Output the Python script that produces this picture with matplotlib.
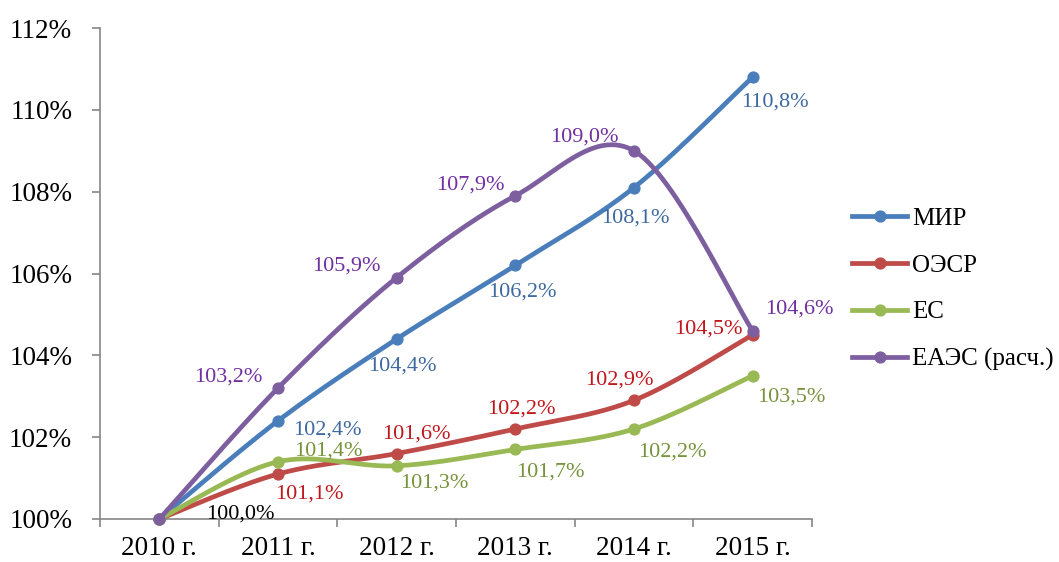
import numpy as np
import matplotlib.pyplot as plt
from matplotlib.lines import Line2D

# Данные
years = ["2010 г.", "2011 г.", "2012 г.", "2013 г.", "2014 г.", "2015 г."]
mir = [100.0, 102.4, 104.4, 106.2, 108.1, 110.8]
oecd = [100.0, 101.1, 101.6, 102.2, 102.9, 104.5]
es = [100.0, 101.4, 101.3, 101.7, 102.2, 103.5]
eaes = [100.0, 103.2, 105.9, 107.9, 109.0, 104.6]
series_names = ["МИР", "ОЭСР", "ЕС", "ЕАЭС (расч.)"]

# Стили
line_colors = ["#4A7EBB", "#BE4B48", "#98B954", "#7D5FA0"]
label_colors = ["#3D69A0", "#C0161C", "#77933C", "#7030A0"]

# Смещения подписей (в пикселях), первая точка подписывается отдельно
offsets = [
    [None, (49, -9), (6, -27), (7, -27), (1, -30), (22, -25)],
    [None, (31, -20), (20, 19), (6, 20), (-15, 20), (-44, 6)],
    [None, (50, 11), (38, -17), (35, -23), (38, -23), (39, -21)],
    [None, (-50, 11), (-50, 12), (-45, 11), (-50, 14), (47, 22)],
]

plt.rcParams['font.family'] = ['Liberation Serif', 'DejaVu Serif']


def smooth(y, n=60):
    # сглаживание как в Excel: кривые Безье с коэффициентом 1/6
    x = np.arange(len(y), dtype=float)
    pts = np.column_stack([x, np.array(y, dtype=float)])
    out = []
    for i in range(len(pts) - 1):
        p0 = pts[i - 1] if i > 0 else pts[i]
        p1 = pts[i]
        p2 = pts[i + 1]
        p3 = pts[i + 2] if i + 2 < len(pts) else pts[i + 1]
        c1 = p1 + (p2 - p0) / 6
        c2 = p2 - (p3 - p1) / 6
        t = np.linspace(0, 1, n)[:, None]
        seg = ((1 - t) ** 3) * p1 + 3 * ((1 - t) ** 2) * t * c1 + 3 * (1 - t) * t ** 2 * c2 + t ** 3 * p2
        out.append(seg if i == 0 else seg[1:])
    seg = np.vstack(out)
    return seg[:, 0], seg[:, 1]


fig = plt.figure(figsize=(10.59, 5.62), dpi=100)
ax = fig.add_axes([100 / 1059, 43 / 562, 712 / 1059, 491 / 562])

x = np.arange(len(years))
handles = []
for k, vals in enumerate([mir, oecd, es, eaes]):
    sx, sy = smooth(vals)
    ax.plot(sx, sy, color=line_colors[k], lw=3.4, solid_capstyle='round', zorder=3 + k, clip_on=False)
    ax.plot(x, vals, 'o', color=line_colors[k], ms=7.8, zorder=3 + k, clip_on=False)
    handles.append(Line2D([], [], color=line_colors[k], lw=3.4, marker='o', ms=7.8))
    for i in range(1, len(vals)):
        dx, dy = offsets[k][i]
        ax.annotate(f"{vals[i]:.1f}%".replace('.', ','), (x[i], vals[i]),
                    xytext=(dx * 0.72, dy * 0.72), textcoords='offset points',
                    ha='center', va='center', fontsize=16, color=label_colors[k], zorder=10)

# подпись первой точки
ax.annotate(f"{mir[0]:.1f}%".replace('.', ','), (x[0], mir[0]),
            xytext=(81 * 0.72, 5 * 0.72), textcoords='offset points',
            ha='center', va='center', fontsize=16, color='black', zorder=10)

ax.set_xlim(-0.5, 5.5)
ax.set_ylim(100, 112)
ax.set_yticks(np.arange(100, 113, 2))
ax.set_yticklabels([f"{v:.0f}%" for v in np.arange(100, 113, 2)], fontsize=19.5)
ax.set_xticks(x)
ax.set_xticklabels(years, fontsize=19.5)
ax.set_xticks(np.arange(-0.5, 6, 1), minor=True)
ax.tick_params(axis='x', which='major', length=0, pad=12)
ax.tick_params(axis='x', which='minor', length=6, width=1.2, color='#868686', direction='out')
ax.tick_params(axis='y', length=6, width=1.2, color='#868686', pad=14)

for s in ['top', 'right']:
    ax.spines[s].set_visible(False)
for s in ['left', 'bottom']:
    ax.spines[s].set_color('#868686')
    ax.spines[s].set_linewidth(1.2)

fig.legend(handles, series_names, loc='center left', bbox_to_anchor=(852 / 1059, 1 - 289 / 562),
           frameon=False, fontsize=18, handlelength=2.2, handletextpad=0.2,
           labelspacing=0.97, borderpad=0, borderaxespad=0)

plt.savefig("out.png", dpi=100)
plt.close()
